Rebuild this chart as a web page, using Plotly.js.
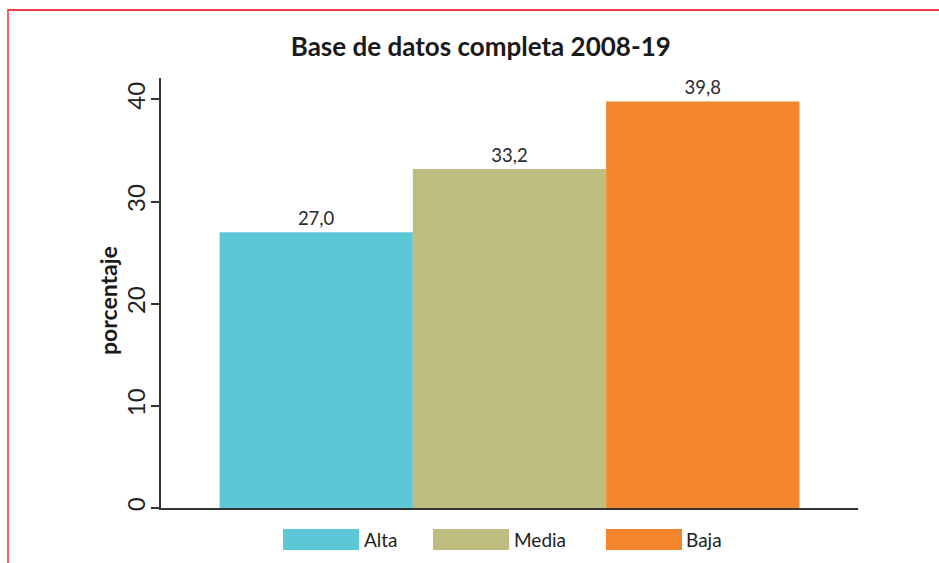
<!DOCTYPE html>
<html>
<head>
<meta charset="utf-8">
<script src="https://cdn.plot.ly/plotly-3.0.1.min.js"></script>
<style>
html,body{margin:0;padding:0;background:#fff;}
#wrap{position:relative;width:939px;height:563px;}
#frame{position:absolute;left:7px;top:9px;width:932px;height:554px;border-top:2px solid #EE4048;border-left:2px solid #F0646A;box-sizing:border-box;pointer-events:none;z-index:5;}
#chart{position:absolute;left:0;top:0;width:939px;height:563px;}
</style>
</head>
<body>
<div id="wrap"><div id="chart"></div><div id="frame"></div></div>
<script>
// Data
const categoria = ["Base de datos completa 2008-19"];
const seriesNames = ["Alta", "Media", "Baja"];
const alta = [27.0];
const media = [33.2];
const baja = [39.8];
const colors = ["#5CC8D7", "#BFBC7F", "#F3862D"];
const yTicks = [0, 10, 20, 30, 40];

const seriesValues = [alta, media, baja];
const W = 939, H = 563;
const mL = 161, mR = 81, mT = 78, mB = 55;
const plotW = W - mL - mR, plotH = H - mT - mB;
const font = "Lato, 'Open Sans', sans-serif";

const traces = seriesNames.map((n, i) => ({
  type: "bar",
  name: n,
  x: categoria,
  y: seriesValues[i],
  marker: {color: colors[i], line: {width: 0}},
  texttemplate: "%{y:.1f}",
  textposition: "outside",
  cliponaxis: false,
  textfont: {family: font, size: 18.5, color: "#2a2a2a"},
  showlegend: false,
  hoverinfo: "skip"
}));

// custom legend (large swatches)
const legendPx = [{sx: 283, tx: 362}, {sx: 433, tx: 512}, {sx: 606, tx: 684}];
const swW = 76, swTop = 529, swBot = 550;
const toPX = px => (px - mL) / plotW;
const toPY = py => (H - mB - py) / plotH;
const shapes = [];
const annotations = [];
seriesNames.forEach((n, i) => {
  shapes.push({type: "rect", xref: "paper", yref: "paper",
    x0: toPX(legendPx[i].sx), x1: toPX(legendPx[i].sx + swW),
    y0: toPY(swBot), y1: toPY(swTop),
    fillcolor: colors[i], line: {width: 0}});
  annotations.push({xref: "paper", yref: "paper", x: toPX(legendPx[i].tx), y: toPY((swTop + swBot) / 2),
    xanchor: "left", yanchor: "middle", showarrow: false, text: n,
    font: {family: font, size: 19, color: "#222"}});
});
// y axis title
annotations.push({xref: "paper", yref: "paper", x: toPX(108), y: toPY(301),
  xanchor: "center", yanchor: "middle", showarrow: false, textangle: -90,
  text: "<b>porcentaje</b>", font: {family: font, size: 23, color: "#1a1a1a"}});

const layout = {
  width: W, height: H,
  margin: {l: mL, r: mR, t: mT, b: mB, pad: 0},
  paper_bgcolor: "#fff", plot_bgcolor: "#fff",
  separators: ",.",
  title: {text: "<b>Base de datos completa 2008-19</b>", x: 0.512, xanchor: "center", y: 1 - 47 / H, yanchor: "middle",
    font: {family: font, size: 26, color: "#1a1a1a"}},
  barmode: "group",
  bargap: 0.168,
  bargroupgap: 0,
  xaxis: {showticklabels: false, ticks: "", showgrid: false, zeroline: false,
    showline: true, linecolor: "#333", linewidth: 2, fixedrange: true},
  yaxis: {range: [0, 42.1], tickvals: yTicks, ticktext: yTicks.map(String), ticks: "outside", ticklen: 8,
    tickwidth: 2, tickcolor: "#333", tickangle: -90, showgrid: false, zeroline: false,
    showline: true, linecolor: "#333", linewidth: 2, ticklabelstandoff: -4,
    tickfont: {family: font, size: 24, color: "#222"}, fixedrange: true},
  shapes: shapes,
  annotations: annotations,
  showlegend: false
};
Plotly.newPlot("chart", traces, layout, {displayModeBar: false, staticPlot: true});
</script>
</body>
</html>
